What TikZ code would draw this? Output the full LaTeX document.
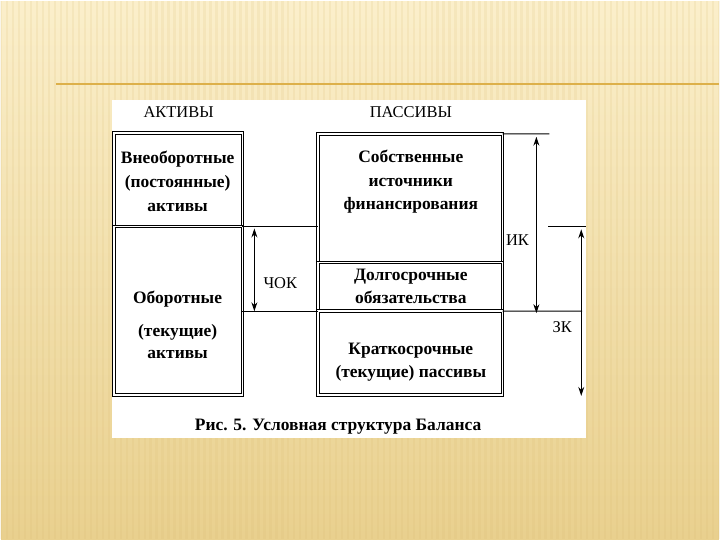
\documentclass[tikz,border=0pt]{standalone}
\usepackage{fontspec}
\setmainfont{Liberation Serif}
\usetikzlibrary{arrows.meta}
\definecolor{cream}{HTML}{FBEFCB}
\definecolor{sand}{HTML}{E9D08E}
\definecolor{grain}{HTML}{D9BB70}
\definecolor{rulecol}{HTML}{DDB04A}
\begin{document}
\begin{tikzpicture}[x=1bp, y=-1bp, >={Stealth[length=9bp,width=6bp]},
    box/.style={draw, double, double distance=1.6bp, line width=1bp, inner sep=0pt, outer sep=0pt},
    bold/.style={font=\fontsize{17.5bp}{24bp}\selectfont\bfseries, align=center, inner sep=1pt},
    plain/.style={font=\fontsize{16.5bp}{20bp}\selectfont, inner sep=1pt},
    level/.style={line width=1bp}]
    % Slide background
    \shade[top color=cream, bottom color=sand] (0,0) rectangle (720,540);
    \foreach \x in {0,6,...,720}
        \draw[grain, opacity=0.15, line width=2.5bp] (\x,0) -- (\x,540);
    \draw[rulecol, line width=1.6bp] (55,83) -- (720,83);
    \fill[white] (111,99) rectangle (587,438);
    % Headers
    \node[plain] (akt) at (178,111) {АКТИВЫ};
    \node[plain] (pas) at (411,111) {ПАССИВЫ};
    % Assets
    \node[box, minimum width=129bp, minimum height=94bp] (vneob) at (177.5,179) {};
    \node[box, minimum width=129bp, minimum height=169bp] (obor) at (177.5,310.5) {};
    \node[bold] (vneob-t) at (177,181) {Внеоборотные\\(постоянные)\\активы};
    \node[bold] (obor-t) at (177,325) {Оборотные\\[9bp](текущие)\\[-2bp]активы};
    % Liabilities
    \node[box, minimum width=185bp, minimum height=129bp] (sob) at (410.5,197.5) {};
    \node[box, minimum width=185bp, minimum height=49bp] (dolg) at (410.5,286.5) {};
    \node[box, minimum width=185bp, minimum height=84bp] (krat) at (410.5,353) {};
    \node[bold] (sob-t) at (411,181) {Собственные\\источники\\финансирования};
    \node[bold, font=\fontsize{17.5bp}{23bp}\selectfont\bfseries] (dolg-t) at (411,286.5) {Долгосрочные\\обязательства};
    \node[bold, font=\fontsize{17.5bp}{23bp}\selectfont\bfseries] (krat-t) at (411,362.5) {Краткосрочные\\(текущие) пассивы};
    % Level lines
    \coordinate (ik-top) at (550,133);
    \coordinate (zk-l) at (549,226);
    \coordinate (zk-r) at (587,226);
    \coordinate (zk-mid) at (583,311);
    \draw[level] (vneob.south east) -- (sob.west |- vneob.south east);
    \draw[level] (obor.east |- krat.north west) -- (krat.north west);
    \draw[level] (sob.north east) -- (ik-top);
    \draw[level] (krat.north east) -- (zk-mid);
    \draw[level] (zk-l) -- (zk-r);
    % Span arrows
    \coordinate (chok-a) at (254,228);
    \coordinate (chok-b) at (254,311);
    \coordinate (ik-a) at (537,136);
    \coordinate (ik-b) at (537,313);
    \coordinate (zk-a) at (582,229);
    \coordinate (zk-b) at (582,396);
    \draw[level, <->] (chok-a) -- (chok-b);
    \draw[level, <->] (ik-a) -- (ik-b);
    \draw[level, <->] (zk-a) -- (zk-b);
    \node[plain] (chok) at (280,283) {ЧОК};
    \node[plain] (ik) at (518,240) {ИК};
    \node[plain] (zk) at (563,327) {ЗК};
    % Caption
    \node[bold] (cap) at (338,427) {Рис. 5. Условная структура Баланса};
\end{tikzpicture}
\end{document}
